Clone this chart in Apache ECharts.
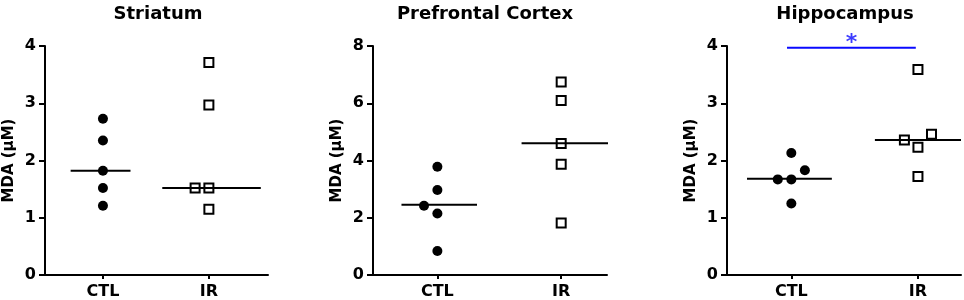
<!DOCTYPE html>
<html>
<head>
<meta charset="utf-8">
<script src="https://cdn.jsdelivr.net/npm/echarts@6/dist/echarts.min.js"></script>
<style>
html,body{margin:0;padding:0;background:#fff;}
#main{width:964px;height:300px;}
</style>
</head>
<body>
<div id="main"></div>
<script>
// groups and panels
var categories = ['CTL', 'IR'];
var titles = ['Striatum', 'Prefrontal Cortex', 'Hippocampus'];
var yMax = [4, 8, 4];
var yStep = [1, 2, 1];

// MDA values (uM); jitter = horizontal scatter offset
var striatumCTL = [2.73, 2.35, 1.82, 1.52, 1.21];
var striatumCTLJitter = [0, 0, 0, 0, 0];
var striatumIR = [3.71, 2.97, 1.52, 1.52, 1.15];
var striatumIRJitter = [0, 0, -0.13, 0, 0];

var pfcCTL = [3.78, 2.97, 2.42, 2.15, 0.84];
var pfcCTLJitter = [0, 0, -0.108, 0, 0];
var pfcIR = [6.74, 6.10, 4.59, 3.87, 1.82];
var pfcIRJitter = [0, 0, 0, 0, 0];

var hipCTL = [2.13, 1.83, 1.67, 1.67, 1.25];
var hipCTLJitter = [0, 0.107, -0.107, 0, 0];
var hipIR = [3.59, 2.46, 2.36, 2.23, 1.72];
var hipIRJitter = [0, 0.107, -0.107, 0, 0];

// medians [CTL, IR] and how far each median bar reaches [left, right]
var medians = [[1.82, 1.52], [2.45, 4.60], [1.68, 2.36]];
var medianSpan = [
    [[-0.305, 0.26], [-0.44, 0.49]],
    [[-0.29, 0.32], [-0.32, 0.38]],
    [[-0.35, 0.32], [-0.34, 0.34]]
];

// significance bar on hippocampus
var sigFrom = 0.966, sigTo = 1.983, sigY = 3.97;

var xRange = [[0.453, 2.558], [0.48, 2.37], [0.492, 2.34]];
var grids = [
    {left: 45, top: 46, width: 223, height: 229},
    {left: 373, top: 46, width: 234, height: 229},
    {left: 727, top: 46, width: 234, height: 229}
];
var titleX = [153, 480, 840];

var font = 'DejaVu Sans, Arial, sans-serif';

function pts(vals, jit, pos) {
    return vals.map(function (v, i) { return [pos + jit[i], v]; });
}

var groups = [
    [pts(striatumCTL, striatumCTLJitter, 1), pts(striatumIR, striatumIRJitter, 2)],
    [pts(pfcCTL, pfcCTLJitter, 1), pts(pfcIR, pfcIRJitter, 2)],
    [pts(hipCTL, hipCTLJitter, 1), pts(hipIR, hipIRJitter, 2)]
];

var chart = echarts.init(document.getElementById('main'));

var title = [], xAxis = [], yAxis = [], series = [];
for (var p = 0; p < 3; p++) {
    title.push({
        text: titles[p],
        left: titleX[p],
        top: 0,
        textAlign: 'center',
        textStyle: {color: '#000', fontSize: 18, fontWeight: 'bold', fontFamily: font}
    });
    xAxis.push({
        type: 'value',
        gridIndex: p,
        min: xRange[p][0],
        max: xRange[p][1],
        splitLine: {show: false},
        axisLine: {onZero: false, lineStyle: {color: '#000', width: 2}},
        axisTick: {customValues: [1, 2], length: 4, lineStyle: {color: '#000', width: 2}},
        axisLabel: {
            customValues: [1, 2],
            margin: 9,
            color: '#000',
            fontSize: 16,
            fontWeight: 'bold',
            fontFamily: font,
            formatter: function (v) { return categories[Math.round(v) - 1]; }
        }
    });
    yAxis.push({
        type: 'value',
        gridIndex: p,
        min: 0,
        max: yMax[p],
        interval: yStep[p],
        name: 'MDA (μM)',
        nameLocation: 'middle',
        nameGap: 28,
        nameTextStyle: {color: '#000', fontSize: 15, fontWeight: 'bold', fontFamily: font},
        splitLine: {show: false},
        axisLine: {show: true, lineStyle: {color: '#000', width: 2}},
        axisTick: {show: true, length: 6, lineStyle: {color: '#000', width: 2}},
        axisLabel: {margin: 9, color: '#000', fontSize: 16, fontWeight: 'bold', fontFamily: font}
    });
    for (var g = 0; g < 2; g++) {
        var c = g + 1;
        series.push({
            type: 'line',
            xAxisIndex: p,
            yAxisIndex: p,
            symbol: 'none',
            silent: true,
            lineStyle: {color: '#000', width: 2},
            data: [[c + medianSpan[p][g][0], medians[p][g]], [c + medianSpan[p][g][1], medians[p][g]]]
        });
    }
    series.push({
        type: 'scatter',
        xAxisIndex: p,
        yAxisIndex: p,
        symbol: 'circle',
        symbolSize: 10,
        itemStyle: {color: '#000', opacity: 1},
        data: groups[p][0]
    });
    series.push({
        type: 'scatter',
        xAxisIndex: p,
        yAxisIndex: p,
        symbol: 'rect',
        symbolSize: 9,
        itemStyle: {color: '#fff', borderColor: '#000', borderWidth: 2, opacity: 1},
        data: groups[p][1]
    });
}

// significance line and asterisk
series.push({
    type: 'line',
    xAxisIndex: 2,
    yAxisIndex: 2,
    symbol: 'none',
    silent: true,
    lineStyle: {color: '#0a0aff', width: 2},
    data: [[sigFrom, sigY], [sigTo, sigY]]
});
series.push({
    type: 'scatter',
    xAxisIndex: 2,
    yAxisIndex: 2,
    symbolSize: 0,
    silent: true,
    label: {
        show: true,
        position: 'top',
        distance: -7,
        formatter: '*',
        color: '#0a0aff',
        fontSize: 22,
        fontWeight: 'bold',
        fontFamily: font
    },
    data: [[(sigFrom + sigTo) / 2, sigY]]
});

chart.setOption({
    animation: false,
    backgroundColor: '#fff',
    title: title,
    grid: grids,
    xAxis: xAxis,
    yAxis: yAxis,
    series: series
});
</script>
</body>
</html>
